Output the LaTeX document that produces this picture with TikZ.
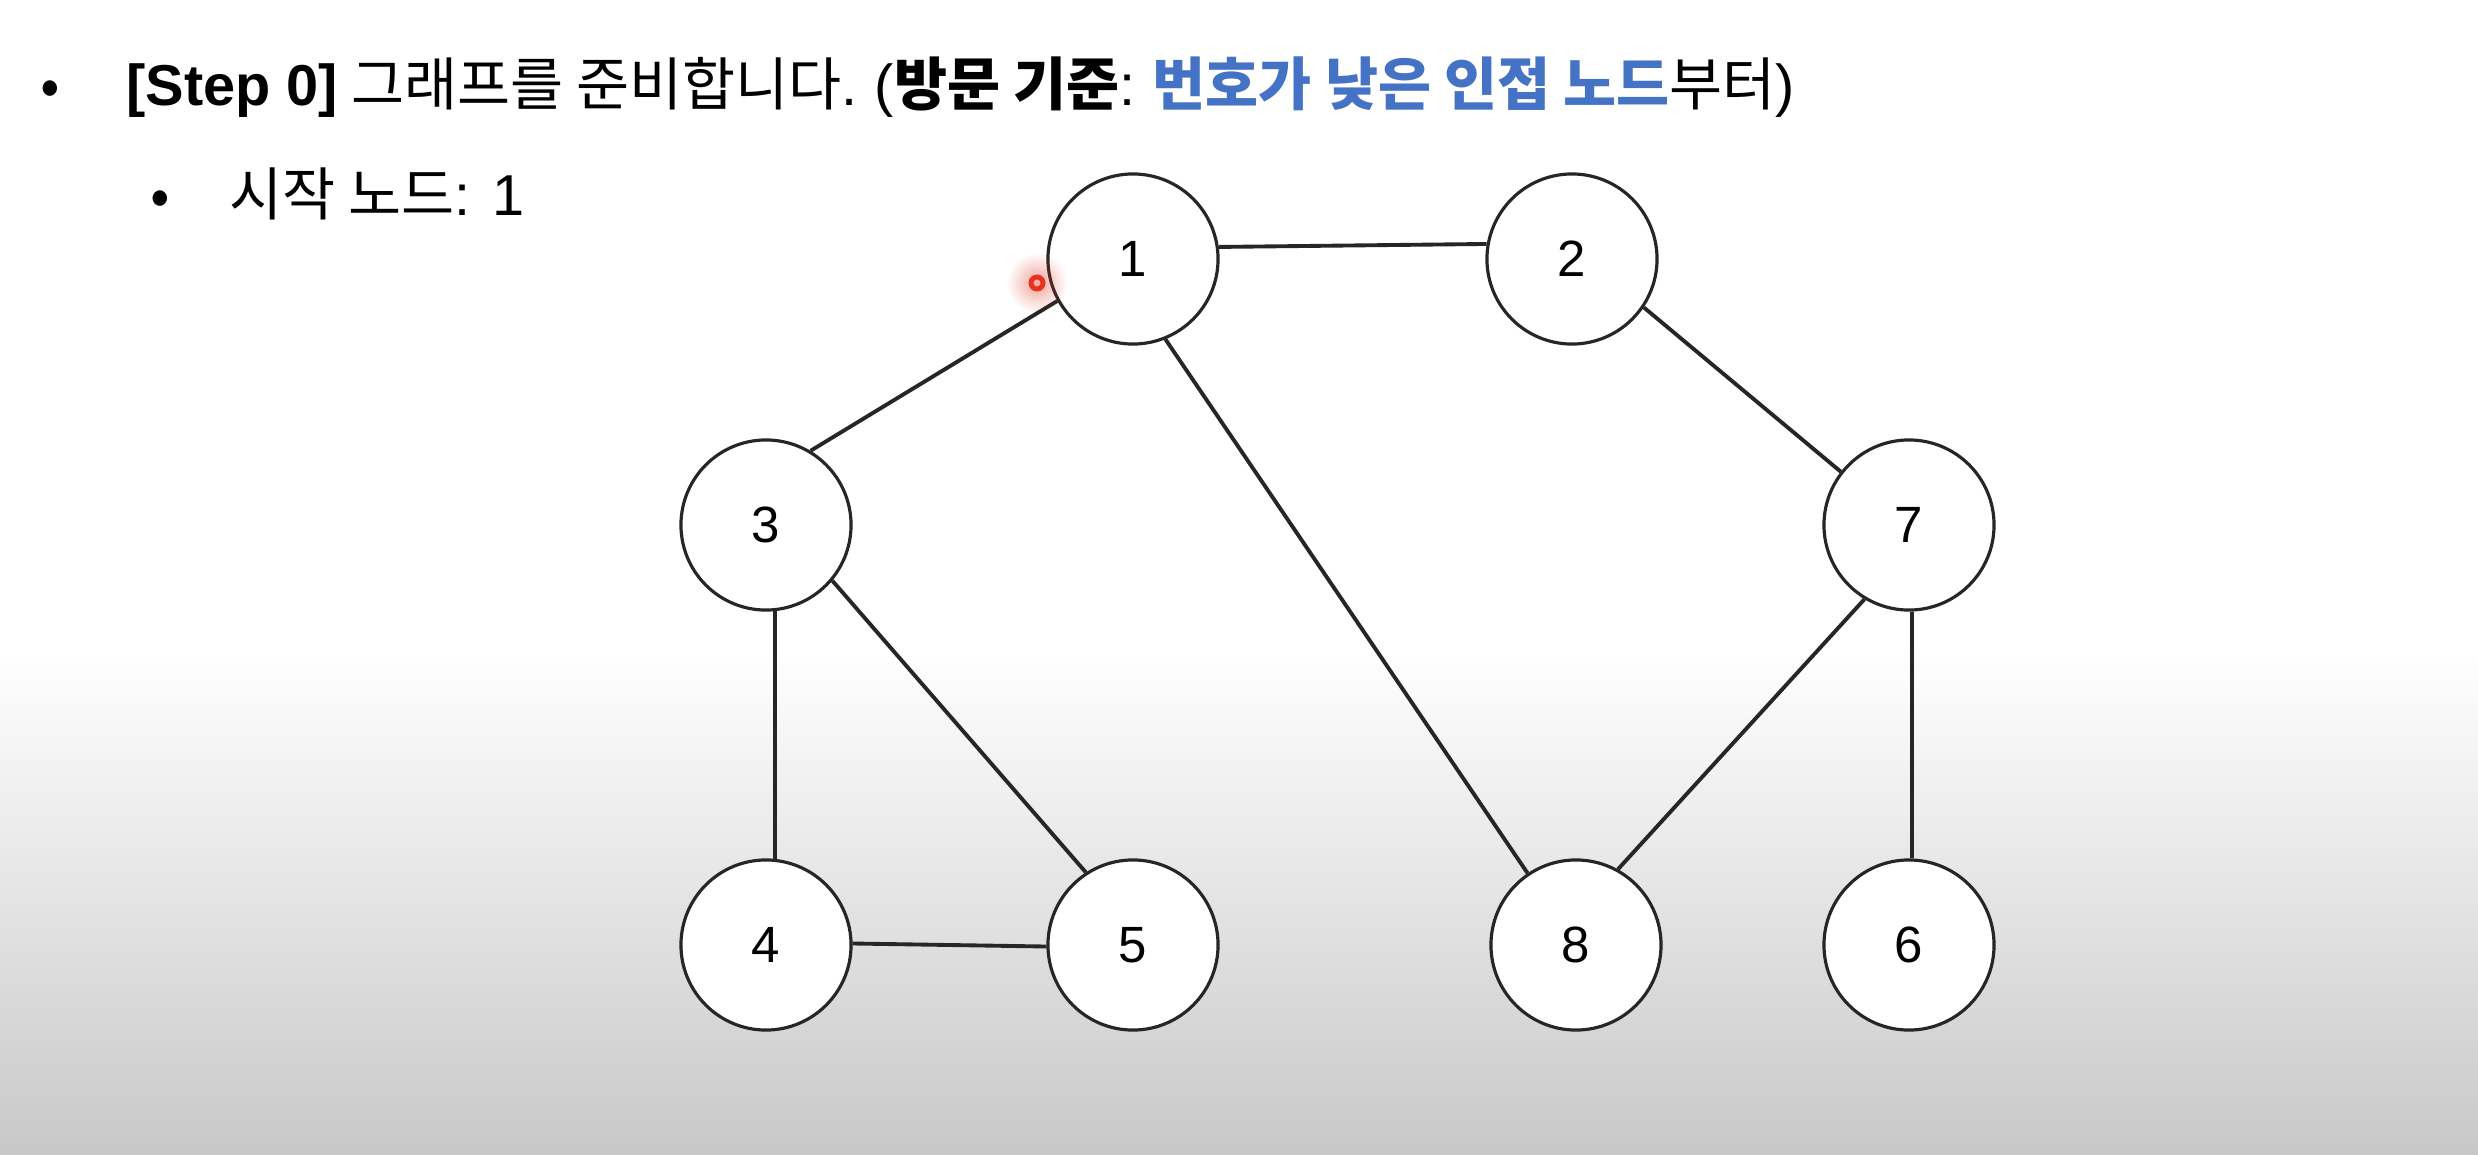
\documentclass[tikz,border=0pt]{standalone}
\usepackage{fontspec}
\setmainfont{Noto Sans CJK KR}
\newfontfamily\numfont{Liberation Sans}
\newfontfamily\lat{Liberation Sans}
\usetikzlibrary{fadings}
\tikzfading[name=glowfade, inner color=transparent!0, outer color=transparent!100]
\definecolor{hlblue}{RGB}{68,114,196}
\definecolor{bggray}{RGB}{200,200,200}
\definecolor{laser}{RGB}{226,52,30}
\newcommand{\hfont}{\fontsize{16.4}{19}\selectfont}
\begin{document}
\begin{tikzpicture}[x=0.01cm,y=-0.01cm,
  gnode/.style={circle,draw=black!85,line width=0.9pt,fill=white,minimum size=1.70cm,inner sep=0pt,font=\numfont\fontsize{14.5}{16}\selectfont},
  edge/.style={draw=black!85,line width=1.1pt},
  txt/.style={anchor=base west,inner sep=0pt,font=\hfont}]
\fill[white] (0,0) rectangle (2478,1154);
\shade[top color=white,bottom color=bggray] (0,650) rectangle (2478,1154);
\useasboundingbox (0,0) rectangle (2478,1154);

% header text
\node[txt] (b1) at (40,105) {•};
\node[txt] (t1) at (126,105) {{\lat\bfseries [Step 0]} 그래프를 준비합니다{\lat .} {\lat (}\textbf{방문 기준}{\lat :} \textcolor{hlblue}{\textbf{번호가 낮은 인접 노드}}부터{\lat )}};
\node[txt] (b2) at (150,215) {•};
\node[txt] (t2) at (229,215) {시작 노드{\lat : 1}};

% nodes
\node[gnode] (n1) at (1133,259) {1};
\node[gnode] (n2) at (1572,259) {2};
\node[gnode] (n3) at (766,525) {3};
\node[gnode] (n7) at (1909,525) {7};
\node[gnode] (n4) at (766,945) {4};
\node[gnode] (n5) at (1133,945) {5};
\node[gnode] (n8) at (1576,945) {8};
\node[gnode] (n6) at (1909,945) {6};

% edges
\draw[edge] (n1.8) -- (n2.170);
\draw[edge] (n1.209) -- (n3.59);
\draw[edge] (n1.292) -- (n8.124);
\draw[edge] (n2.326) -- (n7.142);
\draw[edge] (n3.276) -- (n4.84);
\draw[edge] (n3.320) -- (n5.123);
\draw[edge] (n4.1) -- (n5.181);
\draw[edge] (n7.239) -- (n8.61);
\draw[edge] (n7.272) -- (n6.88);

% laser pointer
\coordinate (cursor) at (1037,283);
\fill[laser,path fading=glowfade,opacity=0.45] (cursor) circle (30);
\fill[laser!40] (cursor) circle (8);
\draw[laser,line width=1.4pt] (cursor) circle (6);
\end{tikzpicture}
\end{document}
